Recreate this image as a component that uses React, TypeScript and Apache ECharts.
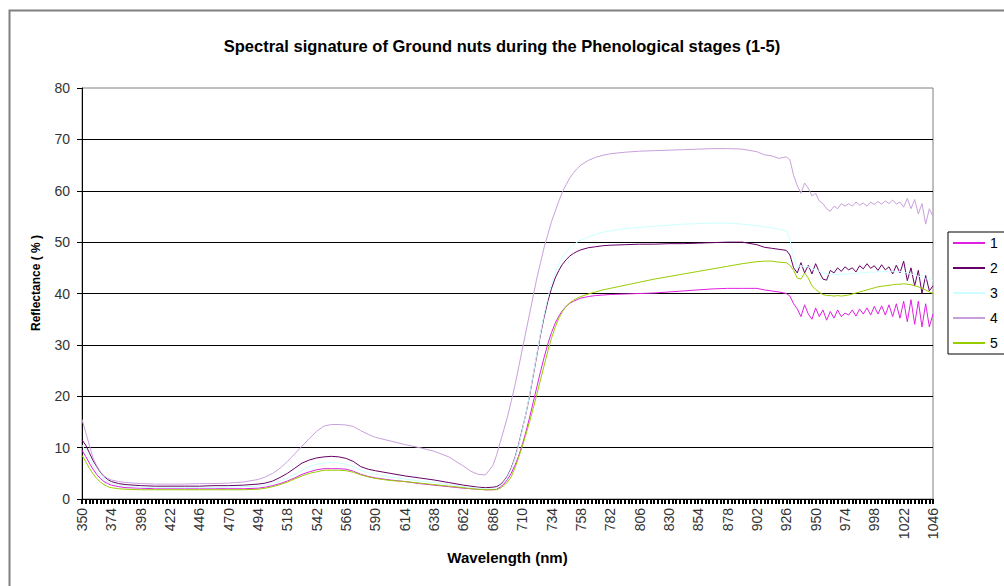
import React, { useEffect, useRef } from "react";
import * as echarts from "echarts";

const TITLE = "Spectral signature of Ground nuts during the Phenological stages (1-5)";
const SERIES_NAMES = ["1", "2", "3", "4", "5"];
const COLORS = ["#E020E0", "#660066", "#CCFFFF", "#C9A0DC", "#99CC00"];

// x-axis categories: wavelengths every 3 nm from 350 to 1046
const CAT_START = 350;
const CAT_END = 1046;
const CAT_STEP = 3;
const CATEGORIES: string[] = [];
for (let w = CAT_START; w <= CAT_END; w += CAT_STEP) CATEGORIES.push(String(w));

// sampled wavelengths (nm)
const WAVELENGTHS = [
  350, 353, 356, 359, 362, 365, 368, 371, 374, 380, 386, 398, 410, 422, 434, 446, 458, 470, 482, 494,
  500, 506, 512, 518, 524, 530, 536, 542, 548, 554, 560, 566, 572, 578, 584, 590,
  602, 614, 626, 638, 650, 662, 668, 674, 680, 686,
  689, 692, 695, 698, 701, 704, 707, 710, 713, 716, 719, 722, 725, 728, 731, 734, 737, 740, 743, 746, 749, 752, 755, 758,
  764, 770, 776, 782, 794, 806, 818, 830, 842, 854, 866, 878, 890, 902, 908, 914, 920, 926, 929, 932,
  935, 938, 941, 944, 947, 950, 953, 956, 959, 962, 965, 968, 971, 974, 977, 980, 983, 986, 989, 992,
  995, 998, 1001, 1004, 1007, 1010, 1013, 1016, 1019, 1022, 1025, 1028, 1031, 1034, 1037, 1040, 1043, 1046,
];

const STAGE1 = [
  9.5, 8.3, 7, 5.8, 4.8, 4, 3.4, 3, 2.7, 2.4, 2.2, 2.1, 2, 2, 2, 2, 2, 2, 2, 2.1,
  2.3, 2.6, 3, 3.5, 4.1, 4.8, 5.3, 5.7, 5.9, 5.9, 5.9, 5.8, 5.4, 4.8, 4.4, 4.1,
  3.7, 3.4, 3, 2.7, 2.4, 2.1, 2, 1.9, 1.8, 1.8,
  1.9, 2.3, 2.9, 3.8, 5, 6.5, 8.3, 10.5, 13, 15.8, 18.8, 21.8, 24.8, 27.6, 30.2, 32.4, 34.2, 35.6, 36.7, 37.5, 38.1, 38.5, 38.8, 39.1,
  39.4, 39.6, 39.7, 39.8, 39.9, 40, 40.1, 40.3, 40.5, 40.7, 40.9, 41, 41, 41, 40.7, 40.5, 40.3, 40, 39.5, 38,
  37, 35.5, 37.8, 36, 35, 37.2, 35.5, 36.8, 34.8, 36.5, 35.2, 36.8, 35.5, 36.2, 35.8, 36.8, 35.6, 37, 36, 37.2,
  35.8, 37.5, 36, 37.6, 35.8, 37.8, 35.5, 38, 35.2, 38.5, 34.5, 38.8, 34, 38.5, 33.5, 38, 33.5, 36,
];

const STAGE2 = [
  11.5, 10.5, 9, 7.5, 6.3, 5.2, 4.4, 3.8, 3.4, 3, 2.8, 2.6, 2.5, 2.5, 2.5, 2.5, 2.6, 2.6, 2.7, 2.9,
  3.1, 3.5, 4.2, 5, 6, 7, 7.6, 8, 8.2, 8.3, 8.2, 7.9, 7.3, 6.3, 5.8, 5.5,
  5, 4.5, 4.1, 3.7, 3.2, 2.7, 2.5, 2.3, 2.2, 2.3,
  2.4, 2.8, 3.5, 4.5, 6, 8, 10.5, 13.5, 16.5, 20, 24, 28, 32, 35.5, 38.5, 41, 43, 44.5, 45.7, 46.6, 47.3, 47.8, 48.2, 48.5,
  48.9, 49.1, 49.3, 49.4, 49.5, 49.6, 49.6, 49.7, 49.7, 49.8, 49.9, 50, 50, 49.5, 49, 48.8, 48.6, 48.4, 47.5, 45,
  44, 46, 44, 45.5, 43.8, 45.8, 44.2, 42.8, 42.6, 44.5, 44, 45, 44.3, 45.2, 44.6, 45, 44.2, 45.4, 44.8, 45.8,
  44.9, 45.4, 44.5, 45.6, 44.6, 45.2, 43.8, 45.5, 44, 46.3, 42.5, 45, 41.5, 44.5, 40, 43.5, 40.5, 41.5,
];

const STAGE3 = [
  10.5, 9.3, 8, 6.6, 5.5, 4.6, 3.9, 3.4, 3, 2.7, 2.5, 2.3, 2.2, 2.2, 2.2, 2.2, 2.2, 2.3, 2.4, 2.5,
  2.7, 3, 3.5, 4.1, 4.8, 5.6, 6.3, 6.8, 7, 7.1, 7, 6.8, 6.3, 5.6, 5.1, 4.8,
  4.3, 3.9, 3.5, 3.2, 2.8, 2.4, 2.2, 2.1, 2, 2,
  2.1, 2.6, 3.3, 4.3, 5.8, 7.8, 10.3, 13.3, 16.6, 20.2, 24.2, 28.3, 32.3, 36, 39.2, 41.9, 44.1, 45.8, 47.1, 48.1, 48.9, 49.5, 50, 50.4,
  51, 51.5, 51.9, 52.2, 52.6, 52.9, 53.1, 53.3, 53.5, 53.6, 53.7, 53.7, 53.5, 53.2, 53, 52.8, 52.5, 52.2, 50.5, 47,
  45, 45.5, 45, 45.3, 44.6, 44.8, 44.3, 44, 43.8, 43.7, 43.8, 43.6, 43.8, 43.7, 43.9, 43.8, 44, 43.9, 44.1, 44,
  44.2, 44.1, 44.3, 44.2, 44.3, 44.2, 44.4, 44.1, 44.3, 43.9, 44.2, 43.6, 43.9, 43.2, 43.5, 42.8, 43, 42.5,
];

const STAGE4 = [
  15.5, 13, 10.5, 8, 6.5, 5.3, 4.5, 4, 3.7, 3.4, 3.2, 3, 2.9, 2.9, 2.9, 3, 3, 3.1, 3.3, 3.8,
  4.3, 5, 6, 7.3, 8.8, 10.3, 11.8, 13.2, 14.2, 14.5, 14.5, 14.4, 14.1, 13.3, 12.6, 12,
  11.3, 10.6, 10, 9.3, 8.2, 6.4, 5.4, 4.8, 4.7, 6.5,
  8.5, 11, 13.5, 16, 19, 22, 25.5, 29, 32.5, 36, 39.5, 43, 46, 49, 51.5, 54, 56, 58, 59.8, 61.2, 62.5, 63.5, 64.3, 65,
  65.9, 66.5, 66.9, 67.2, 67.5, 67.7, 67.8, 67.9, 68, 68.1, 68.2, 68.2, 68.1, 67.6, 67, 66.8, 66.3, 66.6, 66, 63,
  61, 59.5, 61.5, 60.5, 59, 59.5, 58, 57.5, 56.5, 56, 57, 56.5, 57.5, 57, 57.5, 57, 57.8, 57.2, 57.6, 57,
  57.8, 57.3, 57.9, 57.4, 58, 57.5, 58.2, 57.4, 57.8, 56.8, 58.5, 56.5, 58.3, 55.5, 57.5, 53.5, 56.5, 55,
];

const STAGE5 = [
  8.5, 7.3, 6, 4.9, 4, 3.3, 2.8, 2.4, 2.2, 2, 1.9, 1.8, 1.8, 1.8, 1.8, 1.8, 1.8, 1.8, 1.8, 1.9,
  2.1, 2.4, 2.8, 3.3, 3.9, 4.5, 5, 5.3, 5.6, 5.6, 5.6, 5.5, 5.2, 4.7, 4.3, 4,
  3.6, 3.4, 3.1, 2.8, 2.5, 2.2, 2, 1.9, 1.8, 1.8,
  1.8, 2.1, 2.6, 3.3, 4.3, 6, 8, 10.2, 12.5, 15, 17.6, 20.4, 23.2, 26, 28.8, 31.3, 33.4, 35.2, 36.5, 37.5, 38.2, 38.7, 39.1, 39.4,
  39.9, 40.3, 40.7, 41, 41.6, 42.2, 42.8, 43.3, 43.8, 44.3, 44.8, 45.3, 45.8, 46.2, 46.3, 46.3, 46.1, 46, 45.5, 44.5,
  43, 42.8, 44, 43, 41.5, 40.8, 40.2, 39.8, 39.6, 39.6, 39.5, 39.6, 39.5, 39.6, 39.7, 39.9, 40.1, 40.3, 40.5, 40.7,
  40.9, 41.1, 41.3, 41.4, 41.5, 41.6, 41.7, 41.8, 41.8, 41.9, 41.8, 41.7, 41.5, 41.3, 41, 40.7, 40.3, 40,
];

const STAGES = [STAGE1, STAGE2, STAGE3, STAGE4, STAGE5];

const Y_MIN = 0;
const Y_MAX = 80;
const Y_INTERVAL = 10;

const FONT = "'Liberation Sans', Arial, sans-serif";

export default function App() {
  const ref = useRef<HTMLDivElement>(null);
  useEffect(() => {
    if (!ref.current) return;
    const chart = echarts.init(ref.current, undefined, { renderer: "svg" });
    const series = STAGES.map((vals, si) => ({
      name: SERIES_NAMES[si],
      type: "line",
      showSymbol: false,
      symbol: "none",
      color: COLORS[si],
      lineStyle: { color: COLORS[si], width: 1 },
      data: WAVELENGTHS.map((w, i) => [String(w), vals[i]]),
    }));
    chart.setOption({
      animation: false,
      backgroundColor: "#ffffff",
      textStyle: { fontFamily: FONT },
      title: {
        text: TITLE,
        left: "center",
        top: 32,
        textStyle: { fontFamily: FONT, fontSize: 16.5, fontWeight: "bold", color: "#000" },
      },
      legend: {
        orient: "vertical",
        left: 948,
        top: 232,
        padding: [3, 20, 3, 5],
        itemGap: 9,
        itemWidth: 32,
        itemHeight: 2,
        icon: "rect",
        borderColor: "#000",
        borderWidth: 1,
        backgroundColor: "#fff",
        textStyle: { fontFamily: FONT, fontSize: 14, color: "#000", lineHeight: 16 },
        data: SERIES_NAMES,
      },
      grid: {
        left: 82,
        right: 71,
        top: 88,
        bottom: 87,
        show: true,
        borderColor: "#808080",
        borderWidth: 1,
        backgroundColor: "transparent",
      },
      xAxis: {
        type: "category",
        data: CATEGORIES,
        boundaryGap: false,
        name: "Wavelength (nm)",
        nameLocation: "middle",
        nameGap: 51,
        nameTextStyle: { fontFamily: FONT, fontSize: 15, fontWeight: "bold", color: "#000" },
        axisLine: { lineStyle: { color: "#000", width: 1 } },
        axisTick: { show: true, interval: 0, length: 5, lineStyle: { color: "#000", width: 2 } },
        axisLabel: {
          interval: 7,
          rotate: 90,
          margin: 9,
          fontFamily: FONT,
          fontSize: 14,
          color: "#333",
        },
        splitLine: { show: false },
      },
      yAxis: {
        type: "value",
        min: Y_MIN,
        max: Y_MAX,
        interval: Y_INTERVAL,
        axisLine: { show: true, lineStyle: { color: "#000", width: 1 } },
        axisTick: { show: true, length: 5, lineStyle: { color: "#000" } },
        axisLabel: { margin: 12, fontFamily: FONT, fontSize: 14, color: "#333" },
        splitLine: { show: true, showMinLine: false, showMaxLine: false, lineStyle: { color: "#000", width: 1 } },
      },
      graphic: [
        {
          type: "rect",
          left: 7,
          top: 8,
          shape: { x: 0, y: 0, width: 1100, height: 700 },
          style: { fill: "none", stroke: "#808080", lineWidth: 2 },
          silent: true,
          z: -10,
        },
        {
          type: "text",
          x: 36,
          y: 283,
          rotation: Math.PI / 2,
          style: {
            text: "Reflectance ( % )",
            font: `bold 12px ${FONT}`,
            fill: "#000",
            align: "center",
            verticalAlign: "middle",
          },
        },
      ],
      series,
    });
    return () => chart.dispose();
  }, []);
  return (
    <div
      ref={ref}
      style={{ position: "absolute", left: 0, top: 0, width: 1004, height: 586 }}
    />
  );
}
